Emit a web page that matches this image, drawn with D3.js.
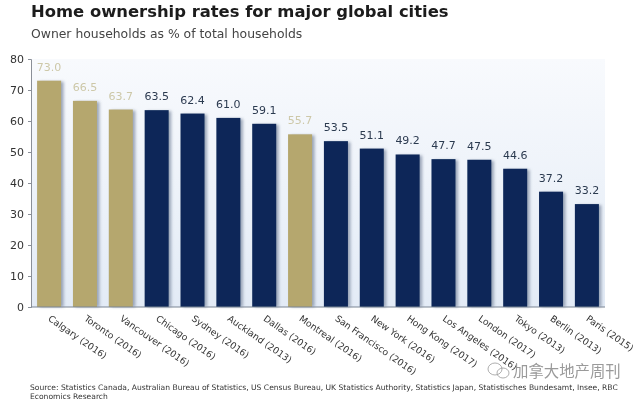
<!DOCTYPE html>
<html><head><meta charset="utf-8">
<script src="https://cdnjs.cloudflare.com/ajax/libs/d3/7.8.5/d3.min.js"></script>
<style>html,body{margin:0;padding:0;background:#fff}svg{display:block}text{font-family:"DejaVu Sans",sans-serif}</style>
</head><body><div id="c"></div>
<script>
const cities=["Calgary (2016)","Toronto (2016)","Vancouver (2016)","Chicago (2016)","Sydney (2016)","Auckland (2013)","Dallas (2016)","Montreal (2016)","San Francisco (2016)","New York (2016)","Hong Kong (2017)","Los Angeles (2016)","London (2017)","Tokyo (2013)","Berlin (2013)","Paris (2015)"];
const rates=[73.0,66.5,63.7,63.5,62.4,61.0,59.1,55.7,53.5,51.1,49.2,47.7,47.5,44.6,37.2,33.2];
const canadian=["Calgary (2016)","Toronto (2016)","Vancouver (2016)","Montreal (2016)"];
const yTicks=[0,10,20,30,40,50,60,70,80];
const title="Home ownership rates for major global cities";
const subtitle="Owner households as % of total households";
const sourceLines=["Source:  Statistics Canada, Australian Bureau of Statistics, US Census Bureau, UK Statistics Authority, Statistics Japan, Statistisches Bundesamt, Insee,  RBC","Economics  Research"];
const watermark="加拿大地产周刊";

const W=640,H=400,mLeft=31,mRight=605,mTop=59,mBottom=307;
const svg=d3.select("#c").append("svg").attr("width",W).attr("height",H);
const defs=svg.append("defs");
const grad=defs.append("linearGradient").attr("id","bg").attr("x1",0).attr("x2",0).attr("y1",0).attr("y2",1);
grad.append("stop").attr("offset","0%").attr("stop-color","#f8fafd");
grad.append("stop").attr("offset","100%").attr("stop-color","#e3ebf6");
const soft=defs.append("filter").attr("id","soft");
soft.append("feGaussianBlur").attr("stdDeviation",0.5);
const sh=defs.append("filter").attr("id","sh").attr("x","-30%").attr("width","160%");
sh.append("feGaussianBlur").attr("stdDeviation",1.6);

const x=d3.scaleBand().domain(cities).range([mLeft,mRight]).paddingInner(0.33).paddingOuter(0.17);
const y=d3.scaleLinear().domain([0,80]).range([mBottom,mTop]);
const g=svg.append("g").attr("filter","url(#soft)");

g.append("rect").attr("x",mLeft).attr("y",mTop).attr("width",mRight-mLeft).attr("height",mBottom-mTop).attr("fill","url(#bg)");

const navy="#0d2858",gold="#b5a76e";
g.append("g").selectAll("rect").data(cities).join("rect")
 .attr("x",d=>x(d)+2.5).attr("y",(d,i)=>y(rates[i])+1)
 .attr("width",x.bandwidth()).attr("height",(d,i)=>mBottom-y(rates[i])-1)
 .attr("fill","#7f8ca3").attr("opacity",0.75).attr("filter","url(#sh)");
g.append("g").selectAll("rect").data(cities).join("rect")
 .attr("x",d=>x(d)).attr("y",(d,i)=>y(rates[i]))
 .attr("width",x.bandwidth()).attr("height",(d,i)=>mBottom-y(rates[i]))
 .attr("fill",d=>canadian.includes(d)?gold:navy);

g.append("g").selectAll("text").data(cities).join("text")
 .attr("x",d=>x(d)+x.bandwidth()/2).attr("y",(d,i)=>y(rates[i])-10)
 .attr("text-anchor","middle").attr("font-size",11)
 .attr("fill",d=>canadian.includes(d)?"#cdc8a8":"#2c3a50")
 .text((d,i)=>rates[i].toFixed(1));

const ya=g.append("g").attr("transform",`translate(${mLeft},0)`)
 .call(d3.axisLeft(y).tickValues(yTicks).tickSize(3).tickPadding(4));
ya.selectAll("text").attr("font-size",11).attr("fill","#333").style("font-family",'"DejaVu Sans",sans-serif');
ya.selectAll("line,path").attr("stroke","#8a8f98");
const xa=g.append("g").attr("transform",`translate(0,${mBottom})`)
 .call(d3.axisBottom(x).tickSize(0).tickFormat(""));
xa.select("path").attr("stroke","#7b8594").attr("d",`M${mLeft},0H${mRight}`);

g.append("g").selectAll("text").data(cities).join("text")
 .attr("transform",d=>`translate(${x(d)+x.bandwidth()/2-1.5},${mBottom+13}) rotate(35)`)
 .attr("font-size",9.2).attr("fill","#333").text(d=>d);

svg.append("text").attr("x",31).attr("y",17).attr("font-size",16.4).attr("font-weight","bold").attr("fill","#1b1b1b").attr("filter","url(#soft)").text(title);
svg.append("text").attr("x",31).attr("y",38).attr("font-size",12.4).attr("fill","#444").attr("filter","url(#soft)").text(subtitle);

svg.append("g").attr("filter","url(#soft)").selectAll("text").data(sourceLines).join("text")
 .attr("x",30).attr("y",(d,i)=>390+i*8.5).attr("font-size",7.58).attr("fill","#333").text(d=>d);

svg.append("text").attr("x",513).attr("y",377).attr("font-size",15.4).attr("fill","#9a9a9a").attr("filter","url(#soft)")
 .style("font-family",'"Noto Sans CJK SC",sans-serif').text(watermark);
const ic=svg.append("g").attr("fill","none").attr("stroke","#9a9a9a").attr("stroke-width",0.8).attr("filter","url(#soft)");
ic.append("ellipse").attr("cx",495).attr("cy",369).attr("rx",7).attr("ry",6);
ic.append("ellipse").attr("cx",503).attr("cy",373).attr("rx",6).attr("ry",5);
</script></body></html>
